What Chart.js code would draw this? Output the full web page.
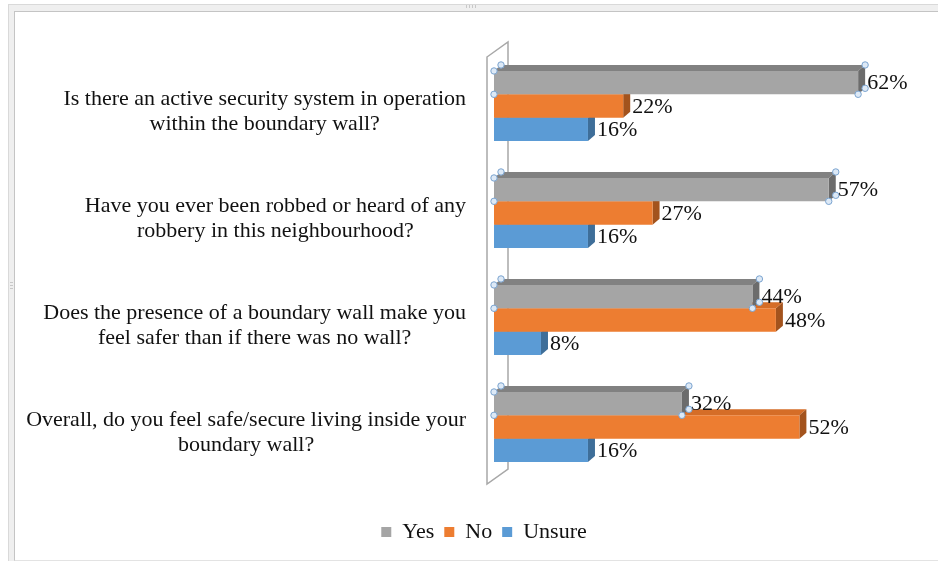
<!DOCTYPE html>
<html>
<head>
<meta charset="utf-8">
<script src="https://cdn.jsdelivr.net/npm/chart.js@4.4.1/dist/chart.umd.min.js"></script>
<style>
  html, body { margin: 0; padding: 0; background: #fff; width: 938px; height: 561px; overflow: hidden; }
  #frame { position: absolute; left: 8px; top: 4px; width: 930px; height: 557px; background: #efefef;
           border-left: 1px solid #d9d9d9; border-top: 1px solid #d9d9d9; box-sizing: border-box; }
  #box { position: absolute; left: 14px; top: 11px; width: 924px; height: 550px; background: #fff;
         border-left: 1px solid #c4c4c4; border-top: 1px solid #c4c4c4; border-bottom: 1px solid #e3e3e3; box-sizing: border-box; }
  .grip { position: absolute; background: #c8c8c8; }
  #chart { position: absolute; left: 15px; top: 12px; }
</style>
</head>
<body>
<div id="frame"></div>
<div id="box"></div>
<div class="grip" style="left:466px;top:5px;width:1px;height:3px"></div>
<div class="grip" style="left:469px;top:5px;width:1px;height:3px"></div>
<div class="grip" style="left:472px;top:5px;width:1px;height:3px"></div>
<div class="grip" style="left:475px;top:5px;width:1px;height:3px"></div>
<div class="grip" style="left:10px;top:282px;width:3px;height:1px"></div>
<div class="grip" style="left:10px;top:285px;width:3px;height:1px"></div>
<div class="grip" style="left:10px;top:288px;width:3px;height:1px"></div>
<canvas id="chart" width="923" height="548"></canvas>
<script>
// --- data ---
const categories = [
  ['Is there an active security system in operation', 'within the boundary wall?'],
  ['Have you ever been robbed or heard of any', 'robbery in this neighbourhood?'],
  ['Does the presence of a boundary wall make you', 'feel safer than if there was no wall?'],
  ['Overall, do you feel safe/secure living inside your', 'boundary wall?']
];
const seriesNames = ['Yes', 'No', 'Unsure'];
const yesValues = [62, 57, 44, 32];
const noValues = [22, 27, 48, 52];
const unsureValues = [16, 16, 8, 16];

// --- look ---
const frontColors = ['#a5a5a5', '#ed7d31', '#5b9bd5'];
const topColors = ['#818181', '#d56d27', '#4a86bd'];
const sideColors = ['#6c6c6c', '#a3531d', '#3e6e99'];
const DX = 7, DY = -6;          // bar depth
const LABEL_RIGHT = 451;        // right edge of category label blocks
const serif = '"Liberation Serif", "Times New Roman", serif';

const bar3d = {
  id: 'bar3d',
  beforeDatasetsDraw(chart) {
    const ctx = chart.ctx, a = chart.chartArea;
    ctx.save();
    // the "wall" panel
    ctx.strokeStyle = '#a8a8a8';
    ctx.lineWidth = 1.5;
    ctx.beginPath();
    ctx.moveTo(a.left - 7, a.top + 4.5);
    ctx.lineTo(a.left + 14, a.top - 10.5);
    ctx.lineTo(a.left + 14, a.bottom - 11.5);
    ctx.lineTo(a.left - 7, a.bottom + 3.5);
    ctx.closePath();
    ctx.stroke();
    // top and side faces, lowest series first
    for (let d = 2; d >= 0; d--) {
      chart.getDatasetMeta(d).data.forEach(bar => {
        const { x, y, base, height } = bar.getProps(['x', 'y', 'base', 'height'], true);
        const t = y - height / 2, b = y + height / 2;
        ctx.fillStyle = topColors[d];
        ctx.beginPath();
        ctx.moveTo(base, t); ctx.lineTo(base + DX, t + DY); ctx.lineTo(x + DX, t + DY); ctx.lineTo(x, t);
        ctx.closePath(); ctx.fill();
        ctx.fillStyle = sideColors[d];
        ctx.beginPath();
        ctx.moveTo(x, t); ctx.lineTo(x + DX, t + DY); ctx.lineTo(x + DX, b + DY); ctx.lineTo(x, b);
        ctx.closePath(); ctx.fill();
      });
    }
    ctx.restore();
  },
  afterDatasetsDraw(chart) {
    const ctx = chart.ctx;
    ctx.save();
    ctx.font = '22px ' + serif;
    ctx.fillStyle = '#111';
    ctx.textBaseline = 'middle';
    ctx.textAlign = 'left';
    chart.data.datasets.forEach((ds, d) => {
      chart.getDatasetMeta(d).data.forEach((bar, i) => {
        const { x, y } = bar.getProps(['x', 'y'], true);
        ctx.fillText(ds.data[i] + '%', x + DX + 2, y + 1);
      });
    });

    // selection handles on the Yes series
    ctx.fillStyle = '#dde9f6';
    ctx.strokeStyle = '#7aa3cf';
    ctx.lineWidth = 1;
    chart.getDatasetMeta(0).data.forEach(bar => {
      const { x, y, base, height } = bar.getProps(['x', 'y', 'base', 'height'], true);
      const t = y - height / 2, b = y + height / 2;
      [[base, t], [base + DX, t + DY], [base, b], [x + DX, t + DY], [x, b], [x + DX, b + DY]].forEach(p => {
        ctx.beginPath();
        ctx.arc(p[0], p[1], 3.2, 0, Math.PI * 2);
        ctx.fill(); ctx.stroke();
      });
    });

    // category labels, each block centred on itself
    const ys = chart.scales.y;
    ctx.fillStyle = '#111';
    ctx.textAlign = 'center';
    categories.forEach((lines, i) => {
      const w = Math.max(...lines.map(l => ctx.measureText(l).width));
      const cx = LABEL_RIGHT - w / 2;
      const cy = ys.getPixelForTick(i) + 6;
      lines.forEach((l, k) => ctx.fillText(l, cx, cy + (k - (lines.length - 1) / 2) * 25));
    });
    ctx.restore();
  }
};

new Chart(document.getElementById('chart'), {
  type: 'bar',
  data: {
    labels: categories.map(c => c.join(' ')),
    datasets: [
      { label: seriesNames[0], data: yesValues, backgroundColor: frontColors[0] },
      { label: seriesNames[1], data: noValues, backgroundColor: frontColors[1] },
      { label: seriesNames[2], data: unsureValues, backgroundColor: frontColors[2] }
    ]
  },
  options: {
    indexAxis: 'y',
    responsive: false,
    animation: false,
    categoryPercentage: 0.655,
    barPercentage: 1,
    layout: { padding: { left: 15, right: 0, top: 40.5, bottom: 7 } },
    scales: {
      x: {
        min: 0, max: 75.6,
        ticks: { display: false },
        grid: { display: false },
        border: { display: false },
        afterFit: s => { s.height = 30.5; }
      },
      y: {
        ticks: { display: false },
        grid: { display: false },
        border: { display: false },
        afterFit: s => { s.width = 464; }
      }
    },
    plugins: {
      tooltip: { enabled: false },
      legend: {
        position: 'bottom',
        labels: {
          boxWidth: 10, boxHeight: 10, padding: 10, color: '#111',
          font: { family: serif, size: 22 }
        }
      }
    }
  },
  plugins: [bar3d]
});
</script>
</body>
</html>
